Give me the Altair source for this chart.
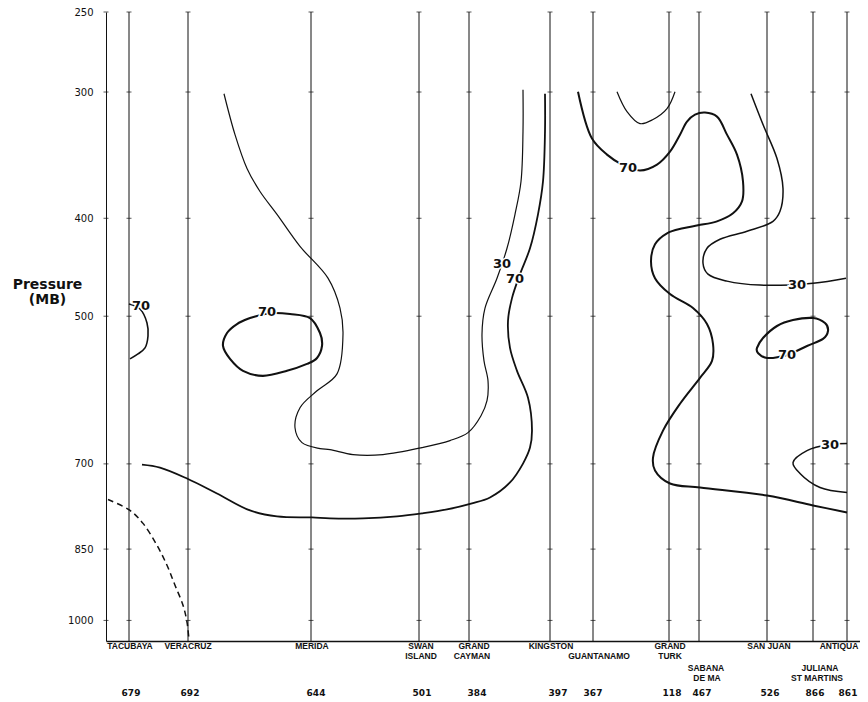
import altair as alt
import pandas as pd

# ---------------- data ----------------
# station positions along the section (arbitrary distance units)
stations = ["TACUBAYA", "VERACRUZ", "MERIDA", "SWAN ISLAND", "GRAND CAYMAN", "KINGSTON",
            "GUANTANAMO", "GRAND TURK", "SABANA DE MA", "SAN JUAN", "JULIANA ST MARTINS", "ANTIQUA"]
station_pos = [129, 188, 311, 419, 469, 550, 593, 669, 699, 767, 813, 847]
station_codes = ["679", "692", "644", "501", "384", "397", "367", "118", "467", "526", "866", "861"]
code_pos = [131, 190, 316, 422, 477, 558, 593, 672, 702, 770, 815, 848]
frame_pos = 106
section_range = [106, 860]

pressure_levels = [250, 300, 400, 500, 700, 850, 1000]
pressure_range = [250, 1048]

# station name lines: (text, position, line row)
name_text = ["TACUBAYA", "VERACRUZ", "MERIDA", "SWAN", "ISLAND", "GRAND", "CAYMAN", "KINGSTON",
             "GUANTANAMO", "GRAND", "TURK", "SABANA", "DE MA", "SAN JUAN", "ANTIQUA", "JULIANA", "ST MARTINS"]
name_pos = [130, 188, 312, 421, 421, 474, 472, 551, 599, 670, 670, 706, 707, 769, 839, 820, 817]
name_row = [1, 1, 1, 1, 2, 1, 2, 1, 2, 1, 2, 3, 4, 1, 1, 3, 4]

# humidity isolines (x = section position, p = pressure mb)
A_x = [129, 140, 147, 148, 145, 138, 130]
A_p = [486.3, 491.9, 507.8, 523.1, 537.5, 544.9, 551.1]

C_x = [224, 235, 247, 260, 277, 300, 328, 340, 343, 337, 317, 300, 295, 302, 320, 330, 353, 383,
       422, 450, 468, 481, 487, 488, 484, 482, 485, 497, 507, 515, 521, 523, 523]
C_p = [301.2, 330.6, 357.1, 376.3, 396.4, 426.4, 458.5, 490.8, 520.7, 570.2, 592.6, 615.9, 644.6,
       666.9, 676.0, 677.5, 685.3, 685.3, 674.5, 663.8, 651.9, 627.2, 606.2, 579.3, 553.6, 520.7,
       490.8, 458.5, 428.3, 396.4, 367.8, 328.3, 298.4]

D_x = [142, 160, 187, 217, 250, 277, 312, 330, 363, 397, 422, 447, 472, 490, 510, 523, 530, 532,
       528, 517, 510, 508, 512, 520, 530, 538, 543, 545, 545]
D_p = [701.1, 705.9, 723.7, 748.8, 778.3, 789.0, 790.8, 792.5, 792.5, 789.0, 783.6, 776.6, 766.0,
       755.7, 730.3, 699.5, 674.5, 648.9, 602.1, 566.3, 537.5, 505.5, 479.8, 454.3, 428.3, 396.4,
       367.8, 328.3, 301.2]

E_x = [578, 592, 607, 622, 640, 657, 670, 680, 687, 695, 705, 717, 727, 737, 743, 742, 733, 717,
       698, 683, 667, 655, 651, 655, 670, 693, 707, 713, 712, 700, 680, 663, 653, 655, 670, 700,
       767, 813, 847]
E_p = [299.8, 333.6, 346.0, 353.9, 358.7, 353.9, 343.6, 330.6, 320.9, 315.9, 314.4, 317.3, 330.6,
       346.0, 367.8, 384.9, 395.5, 402.8, 406.5, 409.2, 413.9, 424.4, 441.1, 458.5, 475.4, 490.8,
       509.0, 532.6, 553.6, 575.4, 610.4, 648.9, 690.0, 710.6, 732.0, 738.7, 752.3, 769.5, 781.9]

U_x = [617, 627, 640, 653, 667, 675]
U_p = [299.8, 313.7, 322.4, 319.4, 311.6, 299.8]

F_x = [751, 763, 777, 783, 780, 773, 747, 720, 707, 703, 708, 727, 760, 813, 846]
F_p = [301.2, 323.1, 349.1, 373.8, 393.7, 402.8, 412.0, 419.6, 428.3, 443.1, 454.3, 461.6, 465.8,
       463.7, 458.5]

H_x = [847, 830, 807, 793, 800, 820, 847]
H_p = [668.4, 669.9, 679.1, 697.9, 715.5, 738.7, 747.1]

# closed 70% cells
B_x = [257, 272, 290, 310, 320, 322, 317, 307, 287, 263, 243, 230, 223, 227, 237, 250]
B_p = [499.8, 496.4, 497.5, 502.1, 519.5, 535.1, 549.9, 557.4, 566.3, 572.8, 566.3, 551.1, 535.1,
       519.5, 509.0, 502.1]
G_x = [757, 763, 777, 793, 813, 825, 828, 823, 807, 787, 767, 758]
G_p = [537.5, 525.4, 511.3, 504.4, 502.1, 507.8, 517.1, 526.6, 535.1, 546.1, 549.9, 543.6]

# dashed line (Tacubaya - Veracruz)
I_x = [108, 130, 143, 157, 167, 175, 183, 187, 189]
I_p = [759.1, 778.3, 801.6, 842.7, 881.9, 922.9, 965.9, 1003.8, 1046.0]

# isoline value labels
lab_x = [141, 267, 502, 515, 628, 797, 787, 830]
lab_p = [488.5, 495.2, 444.1, 459.5, 356.3, 465.8, 546.1, 669.9]
lab_t = ["70", "70", "30", "70", "70", "30", "70", "30"]

# ---------------- tables ----------------
def line_table(pairs):
    rows = []
    for cid, (xs, ps, w) in pairs.items():
        for i, (xv, pv) in enumerate(zip(xs, ps)):
            rows.append({"cid": cid, "i": i, "x": xv, "p": pv, "w": w})
    return pd.DataFrame(rows)

open_lines = line_table({
    "A": (A_x, A_p, 1.6), "C": (C_x, C_p, 1.2), "D": (D_x, D_p, 1.8), "E": (E_x, E_p, 2.0),
    "U": (U_x, U_p, 1.2), "F": (F_x, F_p, 1.5), "H": (H_x, H_p, 1.5),
})
loops = line_table({"B": (B_x, B_p, 2.1), "G": (G_x, G_p, 2.1)})
dashed = line_table({"I": (I_x, I_p, 1.5)})

stn_df = pd.DataFrame({"x": station_pos, "p0": pressure_range[0], "p1": pressure_range[1]})
tick_df = pd.DataFrame([{"x": xv, "p": pv} for xv in [frame_pos] + station_pos for pv in pressure_levels])
name_df = pd.DataFrame({"t": name_text, "x": name_pos, "row": name_row})
code_df = pd.DataFrame({"t": station_codes, "x": code_pos})
lab_df = pd.DataFrame({"x": lab_x, "p": lab_p, "t": lab_t})

# ---------------- encodings ----------------
xscale = alt.Scale(domain=section_range, nice=False, zero=False)
yscale = alt.Scale(type="log", domain=pressure_range, reverse=True, nice=False)
xaxis = alt.Axis(labels=False, ticks=False, title=None, grid=False, domain=True,
                 domainColor="#111", domainWidth=1.6)
yaxis = alt.Axis(values=pressure_levels, format="d", title=["Pressure", "(MB)"], titleAngle=0,
                 titleX=-59, titleY=276, titleAlign="center", titleBaseline="alphabetic",
                 titleFont="DejaVu Sans", titleFontSize=14, titleFontWeight="bold",
                 titleLineHeight=15, titleColor="#111",
                 labelFont="DejaVu Sans", labelFontSize=10, labelColor="#111", labelPadding=13,
                 labelOverlap=False, labelFlush=False,
                 ticks=False, tickSize=0, grid=False, domain=True, domainColor="#111", domainWidth=1)

def X(field="x"):
    return alt.X(f"{field}:Q", scale=xscale, axis=xaxis)

def Y(field="p"):
    return alt.Y(f"{field}:Q", scale=yscale, axis=yaxis)

ink = "#111"

station_lines = alt.Chart(stn_df).mark_rule(color=ink, strokeWidth=1).encode(
    x=X(), y=Y("p0"), y2="p1:Q")

ticks = alt.Chart(tick_df).mark_tick(orient="horizontal", size=5, thickness=1, color=ink).encode(
    x=X(), y=Y())

open_layer = alt.Chart(open_lines).mark_line(color=ink, interpolate="catmull-rom").encode(
    x=X(), y=Y(), detail="cid:N", order="i:Q",
    strokeWidth=alt.StrokeWidth("w:Q", scale=None, legend=None))

loop_layer = alt.Chart(loops).mark_line(color=ink, interpolate="cardinal-closed").encode(
    x=X(), y=Y(), detail="cid:N", order="i:Q",
    strokeWidth=alt.StrokeWidth("w:Q", scale=None, legend=None))

dash_layer = alt.Chart(dashed).mark_line(color=ink, interpolate="catmull-rom", strokeDash=[6, 4]).encode(
    x=X(), y=Y(), detail="cid:N", order="i:Q",
    strokeWidth=alt.StrokeWidth("w:Q", scale=None, legend=None))

lab_halo = alt.Chart(lab_df).mark_text(font="DejaVu Sans", fontSize=13, fontWeight="bold",
                                       color="white", stroke="white", strokeWidth=3).encode(
    x=X(), y=Y(), text="t:N")
lab_text = alt.Chart(lab_df).mark_text(font="DejaVu Sans", fontSize=13, fontWeight="bold",
                                       color=ink).encode(x=X(), y=Y(), text="t:N")

row_px = {1: 634, 2: 644, 3: 656, 4: 666}
name_layers = [
    alt.Chart(name_df).transform_filter(alt.datum.row == r).mark_text(
        font="Liberation Sans", fontSize=8.5, fontWeight="bold", color=ink, baseline="middle"
    ).encode(x=X(), y=alt.value(py), text="t:N")
    for r, py in row_px.items()
]
codes = alt.Chart(code_df).mark_text(font="DejaVu Sans", fontSize=9, fontWeight="bold",
                                     color=ink, baseline="middle").encode(
    x=X(), y=alt.value(681), text="t:N")

chart = alt.layer(station_lines, ticks, open_layer, loop_layer, dash_layer, lab_halo, lab_text,
                  *name_layers, codes).properties(
    width=754, height=629,
    autosize=alt.AutoSizeParams(type="none"),
    padding={"left": 98, "top": 4, "right": 0, "bottom": 60},
    background="white",
).configure_view(stroke=None)

chart.save("out.html", embed_options={"renderer": "svg", "actions": False})
